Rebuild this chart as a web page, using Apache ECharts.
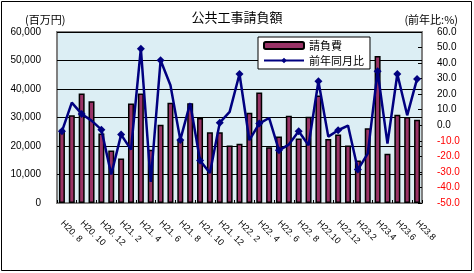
<!DOCTYPE html>
<html>
<head>
<meta charset="utf-8">
<script src="https://cdn.jsdelivr.net/npm/echarts@6/dist/echarts.min.js"></script>
<style>html,body{margin:0;padding:0;background:#fff;}#c{width:474px;height:273px;}</style>
</head>
<body>
<div id="c"></div>
<script>
const categories = [
  "H20. 8","H20. 9","H20. 10","H20. 11","H20. 12",
  "H21. 1","H21. 2","H21. 3","H21. 4","H21. 5","H21. 6","H21. 7","H21. 8","H21. 9","H21. 10","H21. 11","H21. 12",
  "H22. 1","H22. 2","H22. 3","H22. 4","H22. 5","H22. 6","H22. 7","H22. 8","H22. 9","H22.10","H22.11","H22.12",
  "H23.1","H23.2","H23.3","H23.4","H23.5","H23.6","H23.7","H23.8"
];
const contractAmount = [
  25700, 30800, 38400, 35700, 24400, 18400, 15600, 34900, 38400, 18700,
  27500, 35200, 22100, 35000, 29800, 24800, 24800, 20200, 20800, 31700,
  38800, 19600, 23300, 30600, 22600, 30300, 37700, 22500, 24000, 20200,
  14900, 26200, 51600, 17300, 31000, 30200, 29200
];
const yoyRatio = [
  -3.9, 14.6, 7.3, 3.0, -2.8, -31.7, -6.0, -15.7, 49.3, -36.5,
  41.8, 25.7, -9.4, 14.2, -22.7, -30.7, 1.7, 8.6, 33.0, -9.6,
  1.1, 4.7, -16.1, -12.4, -3.9, -12.9, 28.3, -7.3, -3.2, -0.2,
  -28.5, -18.2, 34.7, -11.8, 33.0, 6.4, 29.8
];
const seriesNames = ["請負費", "前年同月比"];
const titleText = "公共工事請負額";
const leftUnit = "(百万円)";
const rightUnit = "(前年比:%)";

const chart = echarts.init(document.getElementById('c'), null, {renderer: 'canvas'});
const cjk = '"Noto Sans CJK JP", "Noto Sans", sans-serif';
const num = '"Liberation Sans", Arial, sans-serif';
chart.setOption({
  animation: false,
  backgroundColor: '#fff',
  textStyle: {fontFamily: cjk},
  title: [
    {text: titleText, left: 'center', top: 6, textStyle: {fontSize: 13, fontWeight: 'normal', color: '#000', fontFamily: cjk}},
    {text: leftUnit, left: 20, top: 9, textStyle: {fontSize: 11, fontWeight: 'normal', color: '#000', fontFamily: cjk}},
    {text: rightUnit, right: 11, top: 9, textStyle: {fontSize: 11, fontWeight: 'normal', color: '#000', fontFamily: cjk}}
  ],
  graphic: [{
    type: 'rect', silent: true, z: 100,
    shape: {x: 1.5, y: 1.5, width: 470, height: 269},
    style: {fill: 'none', stroke: '#000', lineWidth: 1}
  }],
  legend: {
    orient: 'vertical', left: 258, top: 37,
    backgroundColor: '#fff', borderColor: '#000', borderWidth: 1,
    padding: [3, 6, 3, 5], itemGap: 4, itemWidth: 40, itemHeight: 7,
    textStyle: {fontSize: 11, color: '#000', fontFamily: cjk},
    data: seriesNames
  },
  grid: {
    left: 57, right: 52, top: 32, bottom: 70,
    show: true, backgroundColor: '#DCEEF4', borderColor: '#808080', borderWidth: 2
  },
  xAxis: {
    type: 'category', data: categories,
    axisLine: {show: true, lineStyle: {color: '#808080', width: 2}},
    axisTick: {show: true, inside: true, length: 3, lineStyle: {color: '#000'}},
    axisLabel: {interval: 1, rotate: -45, fontSize: 9, color: '#000', margin: 19, fontFamily: num}
  },
  yAxis: [
    {
      type: 'value', min: 0, max: 60000, interval: 10000,
      axisLine: {show: false}, axisTick: {show: false},
      splitLine: {show: true, lineStyle: {color: '#000', width: 1}},
      axisLabel: {fontSize: 10, color: '#000', margin: 16, fontFamily: num,
        formatter: v => v.toLocaleString('en-US')}
    },
    {
      type: 'value', min: -50, max: 60, interval: 10, position: 'right',
      axisLine: {show: false},
      axisTick: {show: true, inside: true, length: 4, lineStyle: {color: '#000'}},
      splitLine: {show: false},
      axisLabel: {fontSize: 10, margin: 15, fontFamily: num,
        formatter: v => v.toFixed(1),
        color: v => (Number(v) < 0 ? '#FF0000' : '#000')}
    }
  ],
  series: [
    {
      name: seriesNames[0], type: 'bar', data: contractAmount, yAxisIndex: 0,
      barWidth: 6,
      itemStyle: {color: '#993366', borderColor: '#000', borderWidth: 1.5}
    },
    {
      name: seriesNames[1], type: 'line', data: yoyRatio, yAxisIndex: 1,
      symbol: 'diamond', symbolSize: 8,
      lineStyle: {color: '#000080', width: 2.5},
      itemStyle: {color: '#000080'}, z: 5
    }
  ]
});
</script>
</body>
</html>
